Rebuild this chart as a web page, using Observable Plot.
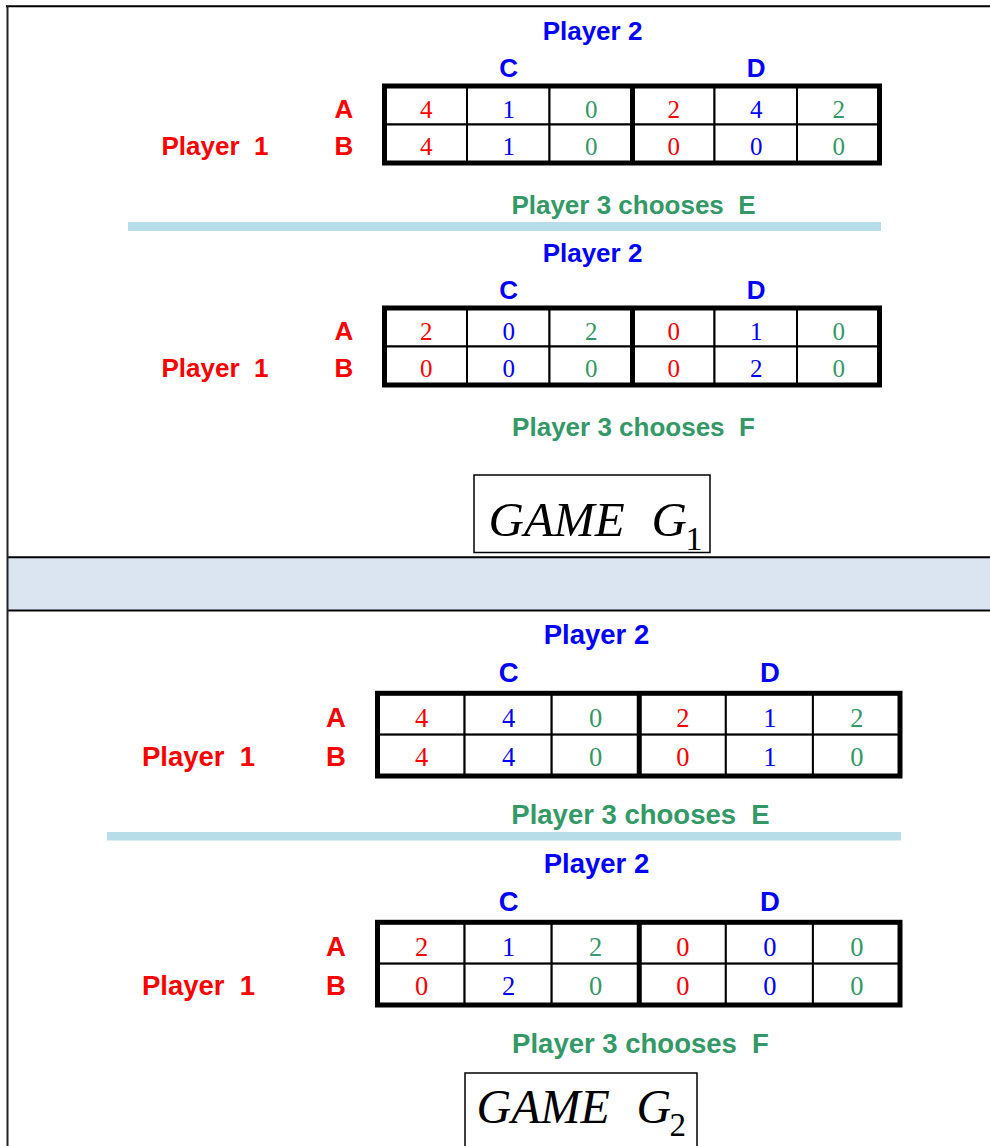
<!DOCTYPE html>
<html>
<head>
<meta charset="utf-8">
<script src="https://cdn.jsdelivr.net/npm/d3@7"></script>
<script src="https://cdn.jsdelivr.net/npm/@observablehq/plot@0.6"></script>
<style>
html, body { margin: 0; padding: 0; background: #fff; }
svg text { white-space: pre; }
</style>
</head>
<body>
<div id="chart"></div>
<script>
// ---------------- data ----------------
const gameNames = ["G1", "G2"];
const gameSubscripts = ["1", "2"];
const player1Strategies = ["A", "B"];
const player2Strategies = ["C", "D"];
const player3Strategies = ["E", "F"];
const player1Label = "Player  1";
const player2Label = "Player 2";
const player3Label = "Player 3 chooses  ";
const gameLabel = "GAME";
const gameLetter = "G";
// payoffs: rows = Player 1 (A, B); columns = (C: p1,p2,p3 | D: p1,p2,p3)
const payoffsG1E = [[4, 1, 0, 2, 4, 2], [4, 1, 0, 0, 0, 0]];
const payoffsG1F = [[2, 0, 2, 0, 1, 0], [0, 0, 0, 0, 2, 0]];
const payoffsG2E = [[4, 4, 0, 2, 1, 2], [4, 4, 0, 0, 1, 0]];
const payoffsG2F = [[2, 1, 2, 0, 0, 0], [0, 2, 0, 0, 0, 0]];
const payoffs = [[payoffsG1E, payoffsG1F], [payoffsG2E, payoffsG2F]];

// ---------------- layout & style ----------------
const W = 990, H = 1146;
const RED = "#ff0000", BLUE = "#0000ff", GREEN = "#339966";
const payoffColors = [RED, BLUE, GREEN];
const SANS = "Liberation Sans, Arial, Helvetica, sans-serif";
const SERIF = "Liberation Serif, Times New Roman, serif";

const panels = [
  {x0: 384.5, x1: 879.5, y0: 86, y1: 163, rowBase: [117.5, 154.5], p2Base: 39, cdBase: 76.5, p3Base: 213,
   p2X: 592, abX: 343.5, p1X: 214.5, p3X: 633, fs: 26, nfs: 25, bar: [128, 881, 222, 231], shift: 222,
   box: [474, 710, 475, 552.5], titleX: 488, gX: 651, subX: 685, titleBase: 535.5, subBase: 549, tfs: 49, sfs: 34},
  {x0: 377.5, x1: 900, y0: 693.3, y1: 776, rowBase: [726.5, 765.5], p2Base: 643, cdBase: 681.5, p3Base: 823.5,
   p2X: 596, abX: 335.5, p1X: 198, p3X: 640, fs: 27.5, nfs: 26.5, bar: [107, 901, 832, 840.5], shift: 229,
   box: [465, 697, 1073, 1170], titleX: 476, gX: 636, subX: 669, titleBase: 1122, subBase: 1135, tfs: 48, sfs: 33}
];
const frame = {top: 5.8, left: 7, lineA: 556.7, lineB: 610, band: "#dbe5f1", bar: "#b7dde8"};

// ---------------- build tables ----------------
const tables = [];
panels.forEach((p, g) => player3Strategies.forEach((s3, k) => {
  tables.push({game: g, choice: k, off: k * p.shift, p});
}));

const cells = [];
const sansTexts = [];
tables.forEach(t => {
  const p = t.p, off = t.off;
  const cw = (p.x1 - p.x0) / 6;
  const ym = (p.y0 + p.y1) / 2;
  payoffs[t.game][t.choice].forEach((row, i) => row.forEach((v, j) => {
    cells.push({
      x1: p.x0 + j * cw, x2: p.x0 + (j + 1) * cw,
      y1: (i === 0 ? p.y0 : ym) + off, y2: (i === 0 ? ym : p.y1) + off,
      cx: p.x0 + (j + 0.5) * cw, base: p.rowBase[i] + off,
      text: String(v), color: payoffColors[j % 3], fs: p.nfs
    });
  }));
  sansTexts.push({text: player2Label, x: p.p2X, base: p.p2Base + off, fs: p.fs, color: BLUE});
  player2Strategies.forEach((s, c) =>
    sansTexts.push({text: s, x: p.x0 + (1.5 + 3 * c) * cw, base: p.cdBase + off, fs: p.fs, color: BLUE}));
  player1Strategies.forEach((s, r) =>
    sansTexts.push({text: s, x: p.abX, base: p.rowBase[r] + off, fs: p.fs, color: RED}));
  sansTexts.push({text: player1Label, x: p.p1X, base: p.rowBase[1] + off, fs: p.fs, color: RED});
  sansTexts.push({text: player3Label + player3Strategies[t.choice], x: p.p3X, base: p.p3Base + off, fs: p.fs, color: GREEN});
});

const titleTexts = [];
const subTexts = [];
panels.forEach((p, g) => {
  titleTexts.push({text: gameLabel, x: p.titleX, base: p.titleBase, fs: p.tfs});
  titleTexts.push({text: gameLetter, x: p.gX, base: p.titleBase, fs: p.tfs});
  subTexts.push({text: gameSubscripts[g], x: p.subX, base: p.subBase, fs: p.sfs});
});

const yMid = d => d.base - 0.32 * d.fs;

const chart = Plot.plot({
  width: W, height: H,
  margin: 0,
  x: {type: "linear", domain: [0, W], range: [0, W], axis: null},
  y: {type: "linear", domain: [0, H], range: [0, H], axis: null},
  color: {type: "identity"},
  style: {background: "white", overflow: "visible"},
  marks: [
    // outer frame and separator band
    Plot.rect([frame], {x1: frame.left, x2: W, y1: d => d.lineA, y2: d => d.lineB, fill: frame.band}),
    Plot.ruleY([frame.top], {x1: frame.left - 1, x2: W, stroke: "black", strokeWidth: 2}),
    Plot.ruleY([frame.lineA, frame.lineB], {x1: frame.left, x2: W, stroke: "black", strokeWidth: 2}),
    Plot.ruleX([frame.left], {y1: frame.top, y2: H, stroke: "#222", strokeWidth: 2}),
    // light blue separators between Player 3's choices
    Plot.rect(panels, {x1: d => d.bar[0], x2: d => d.bar[1], y1: d => d.bar[2], y2: d => d.bar[3], fill: frame.bar}),
    // payoff cells
    Plot.rect(cells, {x1: "x1", x2: "x2", y1: "y1", y2: "y2", fill: "white", stroke: "black", strokeWidth: 2}),
    Plot.rect(tables, {x1: d => d.p.x0, x2: d => d.p.x1, y1: d => d.p.y0 + d.off, y2: d => d.p.y1 + d.off,
      fill: "none", stroke: "black", strokeWidth: 5}),
    Plot.ruleX(tables, {x: d => (d.p.x0 + d.p.x1) / 2, y1: d => d.p.y0 + d.off, y2: d => d.p.y1 + d.off,
      stroke: "black", strokeWidth: 5}),
    Plot.text(cells, {x: "cx", y: yMid, text: "text", fill: "color", fontSize: "fs",
      fontFamily: SERIF, lineAnchor: "middle"}),
    // labels
    Plot.text(sansTexts, {x: "x", y: yMid, text: "text", fill: "color", fontSize: "fs",
      fontFamily: SANS, fontWeight: "bold", lineAnchor: "middle"}),
    // game title boxes
    Plot.rect(panels, {x1: d => d.box[0], x2: d => d.box[1], y1: d => d.box[2], y2: d => d.box[3],
      fill: "white", stroke: "black", strokeWidth: 1.5}),
    Plot.text(titleTexts, {x: "x", y: yMid, text: "text", fontSize: "fs", fill: "black",
      fontFamily: SERIF, fontStyle: "italic", textAnchor: "start", lineAnchor: "middle"}),
    Plot.text(subTexts, {x: "x", y: yMid, text: "text", fontSize: "fs", fill: "black",
      fontFamily: SERIF, textAnchor: "start", lineAnchor: "middle"})
  ]
});
document.getElementById("chart").appendChild(chart);
</script>
</body>
</html>
